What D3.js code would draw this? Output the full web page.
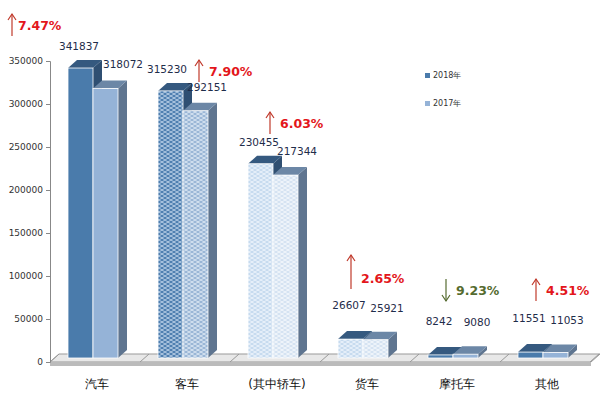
<!DOCTYPE html>
<html><head><meta charset="utf-8">
<script src="https://cdn.jsdelivr.net/npm/d3@7"></script>
<style>body{margin:0;background:#fff}text{font-family:"DejaVu Sans",sans-serif}</style>
</head><body><svg id="c" width="600" height="400"></svg>
<script>
const categories = ["汽车", "客车", "(其中轿车)", "货车", "摩托车", "其他"];
const v2018 = [341837, 315230, 230455, 26607, 8242, 11551];
const v2017 = [318072, 292151, 217344, 25921, 9080, 11053];
const growth = ["7.47%", "7.90%", "6.03%", "2.65%", "9.23%", "4.51%"];
const up = [true, true, true, true, false, true];
const yTicks = [0, 50000, 100000, 150000, 200000, 250000, 300000, 350000];

const svg = d3.select("#c");
const y = d3.scaleLinear().domain([0, 350000]).range([362, 61]);
const x = d3.scaleBand().domain(categories).range([48, 588]);
const dx = 9, dy = 8, bw = 25;
const cx = c => x(c) + x.bandwidth() / 2;

const defs = svg.append("defs");
function pat(id, bg, fg) {
  const p = defs.append("pattern").attr("id", id).attr("width", 6).attr("height", 4).attr("patternUnits", "userSpaceOnUse");
  p.append("rect").attr("width", 6).attr("height", 4).attr("fill", bg);
  p.append("path").attr("d", "M0,2 L3,0 L6,2 L3,4 Z").attr("fill", "none").attr("stroke", fg).attr("stroke-width", 0.8);
}
pat("p18b", "#4f7fb0", "#c9dcef");
pat("p17b", "#9ab6d6", "#e4edf7");
pat("p18c", "#c7dbef", "#f3f8fd");
pat("p17c", "#d5e3f2", "#f7fafd");

// floor
svg.append("path").attr("d", `M50,362 L${50+dx},${362-dy} L600,${362-dy} L591,362 Z`).attr("fill", "#e8e8e8").attr("stroke", "#999");
svg.append("rect").attr("x", 50).attr("y", 362).attr("width", 541).attr("height", 4).attr("fill", "#bbb");
d3.range(7).forEach(i => {
  const xx = 50 + i * 90;
  svg.append("line").attr("x1", xx).attr("x2", xx + dx).attr("y1", 362).attr("y2", 362 - dy).attr("stroke", "#999");
});

const ax = svg.append("g").attr("transform", "translate(50,0)").call(d3.axisLeft(y).tickValues(yTicks).tickSize(4).tickFormat(d3.format("d")));
ax.selectAll("text").attr("font-size", 9).attr("fill", "#333");
ax.selectAll("line,path").attr("stroke", "#888");

function fills(i, yr) {
  if (i === 1) return yr ? "url(#p18b)" : "url(#p17b)";
  if (i === 2 || i === 3) return yr ? "url(#p18c)" : "url(#p17c)";
  return yr ? "#4a7bab" : "#95b3d7";
}
function bar(i, v, yr) {
  const x0 = cx(categories[i]) - bw + (yr ? 0 : bw), yt = y(v), w = bw, b = 358;
  const g = svg.append("g");
  g.append("path").attr("d", `M${x0+w},${yt} L${x0+w+dx},${yt-dy} L${x0+w+dx},${b-dy} L${x0+w},${b} Z`).attr("fill", yr ? "#2f4f72" : "#5f7590");
  g.append("path").attr("d", `M${x0},${yt} L${x0+dx},${yt-dy} L${x0+w+dx},${yt-dy} L${x0+w},${yt} Z`).attr("fill", yr ? "#35597f" : "#6c87a6");
  g.append("rect").attr("x", x0).attr("y", yt).attr("width", w).attr("height", b - yt).attr("fill", fills(i, yr)).attr("stroke", "#fff").attr("stroke-width", 0.8);
}
categories.forEach((c, i) => { bar(i, v2018[i], true); bar(i, v2017[i], false); });

const lab = svg.append("g").attr("font-size", 10.5).attr("fill", "#1f2d4a");
categories.forEach((c, i) => {
  const m = cx(c);
  const off18 = i >= 3 ? 30 : 18, off17 = i >= 3 ? 28 : 20;
  lab.append("text").attr("x", i === 1 ? m - 16 : m - 14).attr("y", y(v2018[i]) - off18).attr("text-anchor", "middle").text(v2018[i]);
  lab.append("text").attr("x", i === 0 ? m + 30 : m + 24).attr("y", y(v2017[i]) - off17).attr("text-anchor", "middle").text(v2017[i]);
});

const ann = [[12, 30], [199, 76], [270, 128], [351, 283], [446, 295], [536, 295]];
categories.forEach((c, i) => {
  const [ax0, ay] = ann[i];
  const col = up[i] ? "#e3161b" : "#556b2f";
  const len = i === 3 ? 34 : 22;
  const y1 = ay - len + 6, y2 = ay + 6;
  const lc = up[i] ? "#c0392b" : "#556b2f";
  svg.append("line").attr("x1", ax0).attr("x2", ax0).attr("y1", y1).attr("y2", y2).attr("stroke", lc).attr("stroke-width", 1.2);
  const ty = up[i] ? y1 : y2, s = up[i] ? 1 : -1;
  svg.append("path").attr("d", `M${ax0-4},${ty+6*s} L${ax0},${ty} L${ax0+4},${ty+6*s}`).attr("fill", "none").attr("stroke", lc).attr("stroke-width", 1.2);
  svg.append("text").attr("x", ax0 + (i === 0 ? 6 : 10)).attr("y", ay).attr("font-size", 12.5).attr("font-weight", "bold").attr("fill", col).text(growth[i]);
});

svg.append("g").selectAll("text").data(categories).join("text")
  .attr("x", d => cx(d) + 4).attr("y", 388).attr("text-anchor", "middle").attr("font-size", 12).attr("fill", "#111").text(d => d);

[["2018年", "#4a7bab", 78], ["2017年", "#95b3d7", 106]].forEach(([t, c, ly]) => {
  svg.append("rect").attr("x", 425).attr("y", ly - 5).attr("width", 5).attr("height", 5).attr("fill", c);
  svg.append("text").attr("x", 433).attr("y", ly).attr("font-size", 8).attr("fill", "#333").text(t);
});
</script></body></html>
